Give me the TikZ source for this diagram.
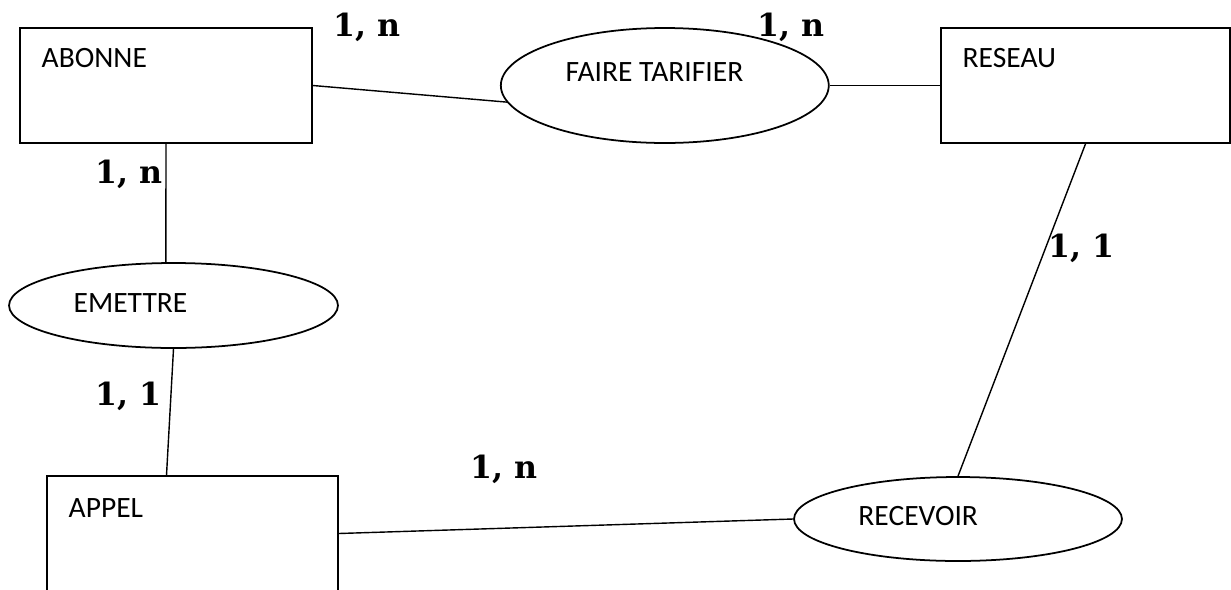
\documentclass[tikz,border=0pt]{standalone}
\usepackage{fontspec}
\setmainfont{Carlito}
\newfontfamily\cardfont{DejaVu Serif}
\usetikzlibrary{shapes.geometric}
\begin{document}
\begin{tikzpicture}[x=0.02cm, y=-0.02cm, line width=0.8pt,
  entity/.style={draw, rectangle, inner sep=0pt, line width=1pt},
  relation/.style={draw, ellipse, inner sep=0pt, line width=1pt},
  ename/.style={inner sep=0pt, anchor=west, font=\fontsize{16.8}{20}\selectfont},
  card/.style={inner sep=0pt, anchor=base west, font=\cardfont\bfseries\fontsize{18}{21}\selectfont}]
\useasboundingbox (0,0) rectangle (1231,589);

% entities
\node[entity, minimum width=5.84cm, minimum height=2.3cm] (abonne) at (166,85.5) {};
\node[entity, minimum width=5.78cm, minimum height=2.3cm] (reseau) at (1085.5,85.5) {};
\node[entity, minimum width=5.82cm, minimum height=2.3cm] (appel) at (192.5,533.5) {};

% associations
\node[relation, minimum width=6.56cm, minimum height=2.3cm] (faire) at (664.8,85.5) {};
\node[relation, minimum width=6.58cm, minimum height=1.7cm] (emettre) at (173.5,305.5) {};
\node[relation, minimum width=6.56cm, minimum height=1.68cm] (recevoir) at (958,519) {};

% names
\node[ename] (abonnet) at (41,58) {ABONNE};
\node[ename] (reseaut) at (962,58.3) {RESEAU};
\node[ename] (appelt) at (68,508) {APPEL};
\node[ename] (fairet) at (565,72) {FAIRE TARIFIER};
\node[ename] (emettret) at (73,302.7) {EMETTRE};
\node[ename] (recevoirt) at (857.7,516) {RECEVOIR};

% links
\draw (abonne.east) -- (faire.186);
\draw (faire.east) -- (reseau.west);
\draw (reseau.south) -- (recevoir.north);
\draw (appel.east) -- (recevoir.west);
\draw (abonne.south) -- (emettre.100);
\draw (emettre.south) -- (appel.114);

% cardinalities
\node[card] (c1) at (333,36) {1, n};
\node[card] (c2) at (757,36) {1, n};
\node[card] (c3) at (95,183) {1, n};
\node[card] (c4) at (1048,257) {1, 1};
\node[card] (c5) at (95,405) {1, 1};
\node[card] (c6) at (470,478) {1, n};
\end{tikzpicture}
\end{document}
